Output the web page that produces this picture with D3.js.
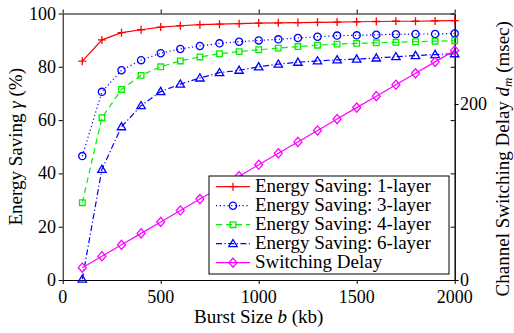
<!DOCTYPE html>
<html>
<head>
  <meta charset="UTF-8">
  <script src="https://d3js.org/d3.v7.min.js"></script>
</head>
<body style="margin:0">
  <svg width="514" height="333" style="display:block"></svg>

  <script>
    // burst sizes (kb)
    const burstSizes = [100, 200, 300, 400, 500, 600, 700, 800, 900, 1000,
                        1100, 1200, 1300, 1400, 1500, 1600, 1700, 1800, 1900, 2000];

    // energy saving (%)
    const saving1 = [82.1, 90.1, 92.8, 93.9, 94.9, 95.4, 95.8, 96.0, 96.2, 96.4,
                     96.5, 96.6, 96.7, 96.8, 96.9, 97.0, 97.1, 97.1, 97.2, 97.3];
    const saving3 = [46.5, 70.6, 78.7, 82.5, 85.1, 86.7, 87.8, 88.8, 89.4, 89.9,
                     90.3, 90.8, 91.3, 91.7, 91.8, 92.0, 92.2, 92.3, 92.3, 92.5];
    const saving4 = [29.0, 60.9, 71.5, 76.8, 80.0, 82.2, 83.7, 84.9, 85.7, 86.4,
                     87.0, 87.6, 88.1, 88.5, 88.8, 89.0, 89.2, 89.4, 89.6, 89.8];
    const saving6 = [0.3, 41.5, 57.5, 65.4, 70.7, 73.5, 75.8, 77.8, 78.7, 80.0,
                     81.0, 81.7, 82.2, 82.6, 82.9, 83.3, 83.8, 84.2, 84.6, 84.9];
    // channel switching delay (msec)
    const delay = [14, 27, 40, 53, 66, 79, 92, 105, 118, 131,
                   144, 157, 170, 183, 196, 209, 222, 235, 248, 261];

    const xTicks = [0, 500, 1000, 1500, 2000];
    const yLeftTicks = [0, 20, 40, 60, 80, 100];
    const yRightTicks = [0, 200];

    const legendLabels = ["Energy Saving: 1-layer", "Energy Saving: 3-layer",
                          "Energy Saving: 4-layer", "Energy Saving: 6-layer", "Switching Delay"];

    const svg = d3.select("svg");
    const plotL = 62.7, plotR = 454.7, plotT = 13.5, plotB = 280;

    const x = d3.scaleLinear().domain([0, 2000]).range([plotL, plotR]);
    const yL = d3.scaleLinear().domain([0, 100]).range([plotB, plotT]);
    const yR = d3.scaleLinear().domain([0, 303]).range([plotB, plotT]);

    // text is set at 22px and scaled down to the wanted size
    const BASE = 22;
    function label(parent, px, py, size, anchor, rot) {
      const g = parent.append("g")
        .attr("transform", `translate(${px},${py}) rotate(${rot || 0}) scale(${size / BASE})`);
      return g.append("text")
        .style("font-family", '"Liberation Serif"')
        .style("font-size", BASE + "px")
        .attr("fill", "#000")
        .attr("text-anchor", anchor || "start");
    }

    // marker shapes
    const markers = {
      plus: "M-4,0H4M0,-4V4",
      circle: "M3.6,0A3.6,3.6 0 1,1 -3.6,0A3.6,3.6 0 1,1 3.6,0Z",
      square: "M-2.8,-2.8H2.8V2.8H-2.8Z",
      triangle: "M0,-4.2L4.2,3L-4.2,3Z",
      diamond: "M0,-4.6L4,0L0,4.6L-4,0Z"
    };

    const series = [
      {values: saving1, y: yL, color: "#ff0000", dash: null, marker: "plus"},
      {values: saving3, y: yL, color: "#0000ff", dash: "1.2,2.6", marker: "circle"},
      {values: saving4, y: yL, color: "#00f000", dash: "6,4", marker: "square"},
      {values: saving6, y: yL, color: "#0000ff", dash: "6,2.5,1.2,2.5", marker: "triangle"},
      {values: delay, y: yR, color: "#ff00ff", dash: null, marker: "diamond"}
    ];

    // axes: lines from d3, labels drawn separately
    const axes = [
      [d3.axisBottom(x).tickValues(xTicks).tickSize(4), `translate(0,${plotB})`],
      [d3.axisTop(x).tickValues(xTicks).tickSize(4), `translate(0,${plotT})`],
      [d3.axisLeft(yL).tickValues(yLeftTicks).tickSize(4), `translate(${plotL},0)`],
      // mirrored left ticks, inward on the right spine
      [d3.axisRight(yL).tickValues(yLeftTicks).tickSize(-4), `translate(${plotR},0)`],
      [d3.axisRight(yR).tickValues(yRightTicks).tickSize(4), `translate(${plotR},0)`]
    ];
    axes.forEach(([ax, tr]) => {
      const g = svg.append("g").attr("transform", tr)
        .call(ax.tickFormat("").tickSizeOuter(0));
      g.selectAll("text").remove();
      g.selectAll("line, path").attr("stroke", "#000").attr("stroke-width", 1);
    });

    const tickLabels = svg.append("g");
    xTicks.forEach(v => label(tickLabels, x(v), 303, 18, "middle").text(v));
    yLeftTicks.forEach(v => label(tickLabels, 56, yL(v) + 6, 18, "end").text(v));
    yRightTicks.forEach(v => label(tickLabels, 460, yR(v) + 6, 18, "start").text(v));

    // lines and markers
    series.forEach(s => {
      const line = d3.line()
        .x((d, i) => x(burstSizes[i]))
        .y(d => s.y(d));
      svg.append("path")
        .datum(s.values)
        .attr("d", line)
        .attr("fill", "none")
        .attr("stroke", s.color)
        .attr("stroke-width", 1.2)
        .attr("stroke-dasharray", s.dash);
      svg.append("g").selectAll("path")
        .data(s.values)
        .join("path")
        .attr("transform", (d, i) => `translate(${x(burstSizes[i])},${s.y(d)})`)
        .attr("d", markers[s.marker])
        .attr("fill", "none")
        .attr("stroke", s.color)
        .attr("stroke-width", 1.3);
    });

    // legend
    const lg = svg.append("g");
    lg.append("rect")
      .attr("x", 209).attr("y", 176).attr("width", 240).attr("height", 98)
      .attr("fill", "#fff").attr("stroke", "#000").attr("stroke-width", 1);
    series.forEach((s, i) => {
      const yy = 186.7 + i * 19;
      lg.append("line")
        .attr("x1", 216).attr("x2", 250).attr("y1", yy).attr("y2", yy)
        .attr("stroke", s.color).attr("stroke-width", 1.2)
        .attr("stroke-dasharray", s.dash);
      lg.append("path")
        .attr("transform", `translate(233,${yy})`)
        .attr("d", markers[s.marker])
        .attr("fill", "none").attr("stroke", s.color).attr("stroke-width", 1.3);
      label(lg, 255, yy + 5.5, 19, "start").text(legendLabels[i]);
    });

    // axis titles
    const xt = label(svg, (plotL + plotR) / 2, 323, 19, "middle");
    xt.append("tspan").text("Burst Size ");
    xt.append("tspan").style("font-style", "italic").text("b");
    xt.append("tspan").text(" (kb)");

    const yt = label(svg, 22, (plotT + plotB) / 2, 19, "middle", -90);
    yt.append("tspan").text("Energy Saving ");
    yt.append("tspan").style("font-style", "italic").text("γ");
    yt.append("tspan").text(" (%)");

    const rt = label(svg, 509, (plotT + plotB) / 2 + 12, 19, "middle", -90);
    rt.append("tspan").text("Channel Switching Delay ");
    rt.append("tspan").style("font-style", "italic").text("d");
    rt.append("tspan").style("font-style", "italic").style("font-size", "15px").attr("dy", 4).text("m");
    rt.append("tspan").attr("dy", -4).text(" (msec)");
  </script>
</body>
</html>
